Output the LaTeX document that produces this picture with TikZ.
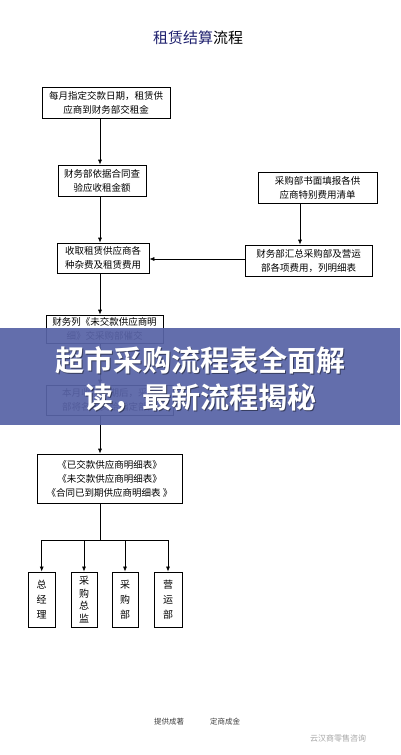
\documentclass[tikz,border=0pt]{standalone}
\usepackage{fontspec}
\newfontfamily\cjk{Noto Sans CJK SC}[BoldFont={Noto Sans CJK SC Bold}]
\usetikzlibrary{arrows.meta}
\definecolor{navy}{RGB}{30,32,110}
\definecolor{banner}{RGB}{88,99,166}
\begin{document}
\begin{tikzpicture}[x=1pt,y=-1pt,
  box/.style={draw, line width=0.7pt, inner sep=0pt, font=\cjk\fontsize{9.5}{14}\selectfont, align=center},
  vbox/.style={draw, line width=0.8pt, inner sep=0pt, font=\cjk\fontsize{10}{15}\selectfont, align=center, minimum height=55pt},
  arr/.style={-{Latex[length=5pt,width=4pt]}, line width=0.7pt},
  ln/.style={line width=0.7pt}]
\useasboundingbox (0,0) rectangle (400,755);
\fill[white] (0,0) rectangle (400,755);
% title
\node[font=\cjk\fontsize{15}{15}\selectfont] (title) at (198,38) {\textcolor{navy}{租赁结算}流程};
% boxes
\node[box, minimum width=128pt, minimum height=31pt] (b1) at (106,102.5) {每月指定交款日期，租赁供\\应商到财务部交租金};
\node[box, minimum width=88pt, minimum height=31pt] (b2) at (102,180.5) {财务部依据合同查\\验应收租金额};
\node[box, minimum width=119pt, minimum height=31pt] (b4) at (317.5,187.5) {采购部书面填报各供\\应商特别费用清单};
\node[box, minimum width=92pt, minimum height=30pt] (b3) at (103,258) {收取租赁供应商各\\种杂费及租赁费用};
\node[box, minimum width=127pt, minimum height=31pt] (b5) at (308.5,260.5) {财务部汇总采购部及营运\\部各项费用，列明细表};
\node[box, minimum width=117pt, minimum height=28pt] (b6) at (104.5,329) {财务列《未交款供应商明\\细》交采购部催交};
\node[box, minimum width=127pt, minimum height=30pt] (b7) at (109.5,400) {本月收款到期后，采购\\部将名单交给指定部门};
\node[box, minimum width=145pt, minimum height=49pt] (b8) at (109.5,478.5) {《已交款供应商明细表》\\《未交款供应商明细表》\\《合同已到期供应商明细表 》};
% bottom boxes
\node[vbox, minimum width=27pt] (s1) at (41.7,599.5) {总\\经\\理};
\node[vbox, minimum width=26pt, font=\cjk\fontsize{10}{12.5}\selectfont] (s2) at (84,599.5) {采\\购\\总\\监};
\node[vbox, minimum width=26pt] (s3) at (125,599.5) {采\\购\\部};
\node[vbox, minimum width=28pt] (s4) at (168,599.5) {营\\运\\部};
% connectors
\coordinate (t) at (100,0);
\coordinate (r) at (300,0);
\coordinate (br) at (100,540);
\draw[arr] (b1.south -| t) -- (b2.north -| t);
\draw[arr] (b2.south -| t) -- (b3.north -| t);
\draw[arr] (b4.south -| r) -- (b5.north -| r);
\draw[arr] (b5.west |- 0,259) -- (b3.east |- 0,259);
\draw[arr] (b3.south -| t) -- (b6.north -| t);
\draw[arr] (b6.south -| t) -- (b7.north -| t);
\draw[arr] (b7.south -| t) -- (b8.north -| t);
\draw[ln] (b8.south -| t) -- (br);
\draw[ln] (s1.north |- br) -- (s4.north |- br);
\foreach \s in {s1,s2,s3,s4} \draw[arr] (\s.north |- br) -- (\s.north);
% footer texts
\node[font=\cjk\fontsize{7.5}{8}\selectfont, text=black!75] (f1) at (169,722) {提供成著};
\node[font=\cjk\fontsize{7.5}{8}\selectfont, text=black!75] (f2) at (225,722) {定商成金};
\node[font=\cjk\fontsize{8}{8}\selectfont, text=black!35] (wm) at (338,738) {云汉商零售咨询};
% banner
\fill[banner, opacity=0.93] (0,328) rectangle (400,425);
\node[font=\cjk\bfseries\fontsize{29}{29}\selectfont, text=black, opacity=0.45] at (201.2,361.2) {超市采购流程表全面解};
\node[font=\cjk\bfseries\fontsize{29}{29}\selectfont, text=black, opacity=0.45] at (201.2,399.2) {读，最新流程揭秘};
\node[font=\cjk\bfseries\fontsize{29}{29}\selectfont, text=white] (h1) at (200,360) {超市采购流程表全面解};
\node[font=\cjk\bfseries\fontsize{29}{29}\selectfont, text=white] (h2) at (200,398) {读，最新流程揭秘};
\end{tikzpicture}
\end{document}
